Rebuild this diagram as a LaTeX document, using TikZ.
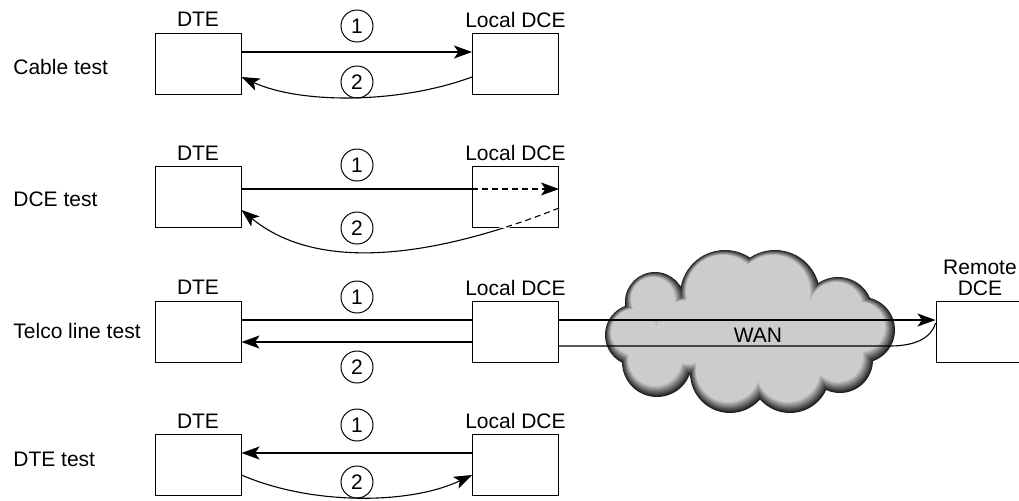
\documentclass[tikz,border=0pt]{standalone}
\usepackage{fontspec}
\setmainfont{Liberation Sans}
\usepackage{tikz}
\usetikzlibrary{positioning,calc,arrows.meta}
\tikzset{
	boite/.style={draw,line width=0.5pt,minimum width=43pt,minimum height=30.5pt,inner sep=0pt},
	rond/.style={draw,circle,line width=0.5pt,minimum size=16pt,inner sep=0pt},
	trait/.style={line width=0.55pt},
	fleche/.style={trait,-{Stealth[length=9pt,width=6.5pt,inset=2.2pt]}},
	tirets/.style={trait,dash pattern=on 3pt off 2pt}
}

\begin{document}
\begin{tikzpicture}[x=0.5pt,y=-0.5pt,font=\fontsize{10.5}{12.6}\selectfont]
				\clip (0,0) rectangle (1019,500); % taille de l'image
				
				%Nuage WAN (bord sombre, interieur gris)
				\foreach \k in {0,...,10}{
					\pgfmathsetmacro{\ton}{88-6.8*\k}
					\fill[black!\ton] foreach \cx/\cy/\ra in {655/302/30,725/295/45,775/295/45,838/312/35,862/330/33,840/360/33,790/373/40,730/373/40,657/362/35,636/335/31,750/333/60,690/335/40,810/335/40}{
						(\cx-0.2*\k,\cy-0.3*\k) circle[radius=\ra-0.8*\k]
					};
				}
				\node (wan) at (758,335) {WAN};
				
				%Boites DTE et DCE locale
				\foreach \r/\yc/\ye/\test in {1/63.5/67/Cable test,2/197/199/DCE test,3/331.5/331/Telco line test,4/465/459/DTE test}{
					\node[boite] (dte\r) at (198,\yc) {};
					\node[boite] (dce\r) at (515.5,\yc) {};
					\node (tdte\r) at ([yshift=6.5pt]dte\r.north) {DTE};
					\node (tdce\r) at ([yshift=6.5pt]dce\r.north) {Local DCE};
					\node[anchor=west,inner sep=0pt] (test\r) at (13,\ye) {\test};
				}
				
				%DCE distante
				\node[boite,minimum width=45pt] (dcer) at (981,331.5) {};
				\node[align=center,font=\fontsize{10.5}{10.5}\selectfont] (tdcer) at (980,277.5) {Remote\\DCE};
				
				%Numeros
				\foreach \r/\ya/\yb in {1/26/82,2/165/228,3/297/367,4/425/482}{
					\node[rond] (un\r) at (357,\ya) {1};
					\node[rond] (deux\r) at (357,\yb) {2};
				}
				
				%Cable test
				\draw[fleche] ([yshift=5.75pt]dte1.east) -- ([yshift=5.75pt]dce1.west);
				\draw[fleche] ([yshift=-6.75pt]dce1.west) .. controls +(-73,27) and +(59,27) .. ([yshift=-6.75pt]dte1.east);
				
				%DCE test
				\draw[trait] ([yshift=4pt]dte2.east) -- ([yshift=4pt]dce2.west);
				\draw[fleche,tirets] ([yshift=4pt]dce2.west) -- ([yshift=4pt]dce2.east);
				\draw[fleche] ([yshift=-5.5pt]dce2.east) .. controls +(-118,47) and +(79,65) .. ([yshift=-6.5pt]dte2.east);
				\begin{scope}
					\clip ([shift={(0.5pt,0.5pt)}]dce2.south west) rectangle ([shift={(-0.5pt,-0.5pt)}]dce2.north east);
					\draw[white,line width=1.5pt] ([yshift=-5.5pt]dce2.east) .. controls +(-118,47) and +(79,65) .. ([yshift=-6.5pt]dte2.east);
					\draw[tirets] ([yshift=-5.5pt]dce2.east) .. controls +(-118,47) and +(79,65) .. ([yshift=-6.5pt]dte2.east);
				\end{scope}
				
				%Telco line test
				\coordinate (retour) at (890,346);
				\draw[trait] ([yshift=5.75pt]dte3.east) -- ([yshift=5.75pt]dce3.west);
				\draw[fleche] ([yshift=-5.25pt]dce3.west) -- ([yshift=-5.25pt]dte3.east);
				\draw[fleche] ([yshift=5.75pt]dce3.east) -- ([yshift=5.75pt]dcer.west);
				\draw[trait] ([yshift=4.25pt]dcer.west) .. controls +(-4,15) and +(25,0) .. (retour) -- ([yshift=-7.25pt]dce3.east);
				
				%DTE test
				\draw[fleche] ([yshift=6pt]dce4.west) -- ([yshift=6pt]dte4.east);
				\draw[fleche] ([yshift=-5pt]dte4.east) .. controls +(69,30) and +(-63,30) .. ([yshift=-5pt]dce4.west);
				
\end{tikzpicture}
\end{document}
